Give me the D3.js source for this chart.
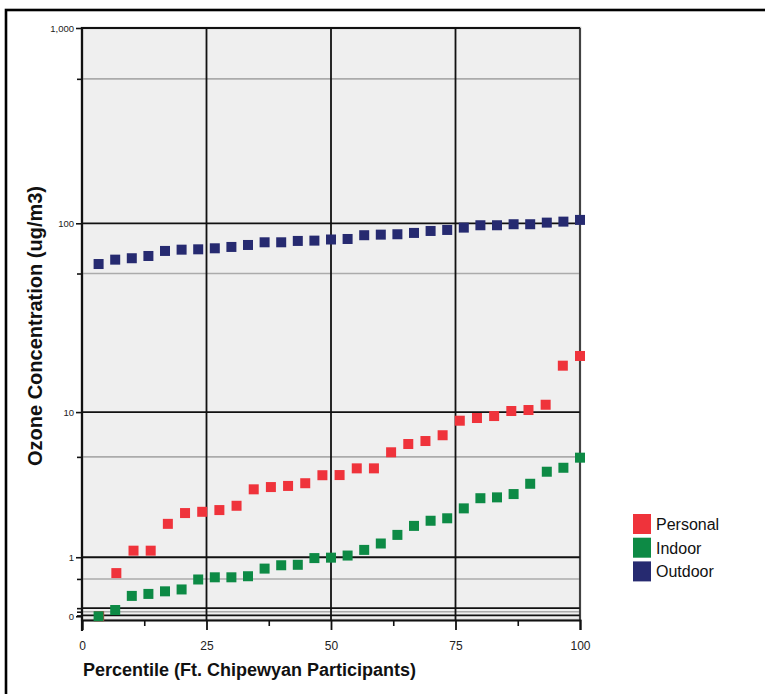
<!DOCTYPE html>
<html>
<head>
<meta charset="utf-8">
<script src="https://cdn.jsdelivr.net/npm/d3@7"></script>
<style>
  html, body { margin: 0; padding: 0; background: #fff; }
  svg { display: block; font-family: "Liberation Sans", Arial, sans-serif; }
</style>
</head>
<body>
<svg id="chart" width="765" height="694"></svg>
<script>
// Ozone concentration (ug/m3) by percentile rank of participants
const personal = [0, 0.66, 1.16, 1.16, 1.96, 2.36, 2.41, 2.48, 2.66, 3.44, 3.56, 3.62, 3.77, 4.24, 4.25,
  4.68, 4.68, 5.86, 6.56, 6.83, 7.38, 8.94, 9.26, 9.5, 10.14, 10.27, 10.99, 17.97, 20.26];
const indoor = [0, 0.076, 0.27, 0.3, 0.34, 0.37, 0.54, 0.58, 0.58, 0.6, 0.75, 0.82, 0.83, 0.98, 0.99,
  1.04, 1.18, 1.35, 1.6, 1.89, 2.07, 2.16, 2.55, 3.0, 3.04, 3.2, 3.74, 4.46, 4.72, 5.44];
const outdoor = [61.6, 64.9, 66.0, 67.8, 72.0, 73.1, 73.4, 74.3, 75.5, 77.3, 79.8, 79.8, 81.1, 81.4, 82.5,
  83.0, 86.8, 87.4, 87.8, 89.2, 91.3, 92.4, 95.0, 97.7, 97.7, 98.9, 98.9, 100.8, 102.0, 104.1];

const seriesNames = ["Personal", "Indoor", "Outdoor"];
const seriesColors = ["#ef333b", "#0d8a45", "#262a70"];

const xTicks = [0, 25, 50, 75, 100];
const xMinorTicks = [12.5, 37.5, 62.5, 87.5];
const yMajorTicks = [1000, 100, 10, 1, 0.1, 0.01];
const yMinorTicks = [550, 55, 5.5, 0.55, 0.055];
const yLabelTicks = [1000, 100, 10, 1, 0];
const yLabelText = ["1,000", "100", "10", "1", "0"];

const svg = d3.select("#chart");

const x = d3.scaleLinear().domain([0, 100]).range([82, 580]);
const y = d3.scaleSymlog().constant(1).domain([-0.045, 1000]).range([620, 28]);

// outer frame
svg.append("rect")
  .attr("x", 6).attr("y", 10).attr("width", 800).attr("height", 800)
  .attr("fill", "none").attr("stroke", "#000").attr("stroke-width", 2.6);

// plot background
svg.append("rect")
  .attr("x", x(0)).attr("y", y(1000))
  .attr("width", x(100) - x(0)).attr("height", y(-0.045) - y(1000))
  .attr("fill", "#efefef").attr("stroke", "#bdbdbd").attr("stroke-width", 2.5);

const grid = svg.append("g");

// minor horizontal grid
grid.selectAll("line.minor").data(yMinorTicks).join("line")
  .attr("class", "minor")
  .attr("x1", x(0)).attr("x2", x(100))
  .attr("y1", d => y(d)).attr("y2", d => y(d))
  .attr("stroke", "#ababab").attr("stroke-width", 1.6);

// major horizontal grid
grid.selectAll("line.major").data(yMajorTicks).join("line")
  .attr("class", "major")
  .attr("x1", x(0)).attr("x2", x(100))
  .attr("y1", d => y(d)).attr("y2", d => y(d))
  .attr("stroke", "#111").attr("stroke-width", 1.8);

// vertical grid
grid.selectAll("line.v").data(xTicks.slice(1, 4)).join("line")
  .attr("class", "v")
  .attr("x1", d => x(d)).attr("x2", d => x(d))
  .attr("y1", y(1000)).attr("y2", y(-0.045))
  .attr("stroke", "#111").attr("stroke-width", 1.8);

// right border
svg.append("line")
  .attr("x1", x(100)).attr("x2", x(100)).attr("y1", y(1000)).attr("y2", y(-0.045))
  .attr("stroke", "#222").attr("stroke-width", 1.6);

// x axis
const xAxis = svg.append("g").attr("transform", `translate(0,${y(-0.045)})`)
  .call(d3.axisBottom(x).tickValues(xTicks).tickSize(10).tickPadding(11).tickFormat(d3.format("d")));
xAxis.select(".domain").attr("stroke", "#111").attr("stroke-width", 2);
xAxis.selectAll(".tick line").attr("stroke", "#111").attr("stroke-width", 1.8);
xAxis.selectAll(".tick text").attr("font-size", 12).attr("fill", "#222")
  .attr("font-family", "Liberation Sans, Arial, sans-serif");
svg.append("g").attr("transform", `translate(0,${y(-0.045)})`)
  .call(d3.axisBottom(x).tickValues(xMinorTicks).tickSize(6).tickFormat(""))
  .call(g => g.select(".domain").remove())
  .selectAll(".tick line").attr("stroke", "#111").attr("stroke-width", 1.6);

// y axis
const yAxis = svg.append("g").attr("transform", `translate(${x(0)},0)`)
  .call(d3.axisLeft(y).tickValues(yLabelTicks).tickSize(6).tickPadding(2)
    .tickFormat((d, i) => yLabelText[i]));
yAxis.select(".domain").remove();
yAxis.selectAll(".tick line").attr("stroke", "#111").attr("stroke-width", 1.6);
yAxis.selectAll(".tick text").attr("font-size", 9.5).attr("fill", "#222")
  .attr("font-family", "Liberation Sans, Arial, sans-serif");
svg.append("g").attr("transform", `translate(${x(0)},0)`)
  .call(d3.axisLeft(y).tickValues(yMinorTicks.concat([0.1, 0.01])).tickSize(5).tickFormat(""))
  .call(g => g.select(".domain").remove())
  .selectAll(".tick line").attr("stroke", "#111").attr("stroke-width", 1.6);

// left axis line
svg.append("line")
  .attr("x1", x(0)).attr("x2", x(0)).attr("y1", y(1000) - 1).attr("y2", y(-0.045) + 11)
  .attr("stroke", "#111").attr("stroke-width", 2.2);

// data markers
const allSeries = [personal, indoor, outdoor];
const size = 10;
allSeries.forEach((vals, si) => {
  const n = vals.length;
  svg.append("g").selectAll("rect").data(vals).join("rect")
    .attr("x", (d, i) => x((i + 1) / n * 100) - size / 2)
    .attr("y", d => y(d) - size / 2)
    .attr("width", size).attr("height", size)
    .attr("fill", seriesColors[si]);
});

// axis titles
svg.append("text")
  .attr("transform", "translate(42,326) rotate(-90)")
  .attr("text-anchor", "middle")
  .attr("font-size", 20).attr("font-weight", "bold").attr("fill", "#111")
  .text("Ozone Concentration (ug/m3)");
svg.append("text")
  .attr("x", 83).attr("y", 676)
  .attr("font-size", 18).attr("font-weight", "bold").attr("fill", "#111")
  .text("Percentile (Ft. Chipewyan Participants)");

// legend
const legend = svg.append("g");
seriesNames.forEach((name, i) => {
  const ly = 514 + i * 23.7;
  legend.append("rect").attr("x", 633).attr("y", ly).attr("width", 18).attr("height", 20)
    .attr("fill", seriesColors[i]);
  legend.append("text").attr("x", 656).attr("y", ly + 16)
    .attr("font-size", 16).attr("fill", "#111").text(name);
});
</script>
</body>
</html>
